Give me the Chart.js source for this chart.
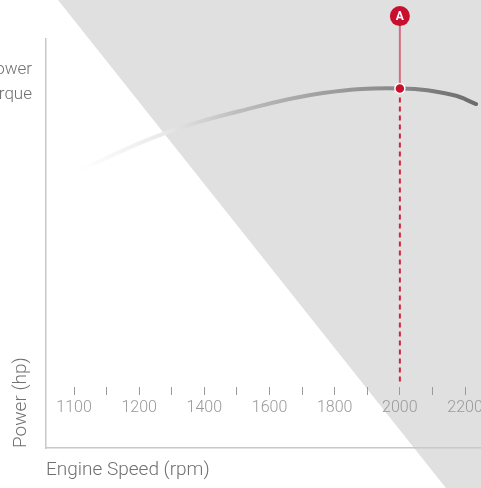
<!DOCTYPE html>
<html>
<head>
<meta charset="utf-8">
<title>Engine Speed vs Power</title>
<script src="https://cdn.jsdelivr.net/npm/chart.js@4.4.1/dist/chart.umd.min.js"></script>
<style>
    html, body { margin: 0; padding: 0; background: #fff; }
    #wrap { position: relative; width: 481px; height: 488px; overflow: hidden; }
</style>
</head>
<body>
<div id="wrap"><canvas id="powerChart"></canvas></div>
<script>
// x values are tick slots: even slots carry the rpm labels, odd slots are minor ticks
const tickLabels = ['1100', '', '1200', '', '1400', '', '1600', '', '1800', '', '2000', '', '2200'];

// power curve (x in tick slots, y in % of axis height)
const curveSlots = [0.18, 2.73, 5.10, 7.64, 10.04, 11.63, 12.34];
const curvePower = [68.0, 76.8, 82.4, 86.8, 87.9, 86.3, 84.1];

const legendLabels = ['Power', 'Torque'];

// marker A on the 2000 rpm slot
const markerLabel = 'A';
const markerSlot = 10;
const markerPower = 87.9;
const markerBadge = 105.6;
const markerDashEnd = 16.1;

const RED = '#c8102e';
const TEXT = '#707070';

Chart.defaults.font.family = 'Roboto, "Liberation Sans", sans-serif';
Chart.defaults.font.weight = 300;

// grey diagonal wedge behind everything
const wedgePlugin = {
    id: 'wedge',
    beforeDraw(chart) {
        const c = chart.ctx, w = chart.width, h = chart.height;
        c.save();
        c.fillStyle = '#e0e0e0';
        c.beginPath();
        c.moveTo(w * 0.1206, 0);
        c.lineTo(w, 0);
        c.lineTo(w, h);
        c.lineTo(w * 0.927, h);
        c.closePath();
        c.fill();
        c.restore();
    }
};

// legend text, cut off by the left edge like in the original
const sideLegendPlugin = {
    id: 'sideLegend',
    afterDraw(chart) {
        const c = chart.ctx;
        c.save();
        c.font = '300 17px Roboto, sans-serif';
        c.fillStyle = TEXT;
        c.textAlign = 'right';
        c.textBaseline = 'alphabetic';
        legendLabels.forEach((txt, i) => {
            c.fillText(txt, 32, 74 + i * 25);
        });
        c.restore();
    }
};

// red badge with the marker letter
const badgePlugin = {
    id: 'badge',
    afterDatasetsDraw(chart) {
        const c = chart.ctx;
        const x = chart.scales.x.getPixelForValue(markerSlot);
        const y = chart.scales.y.getPixelForValue(markerBadge);
        c.save();
        c.fillStyle = RED;
        c.beginPath();
        c.arc(x, y, 10, 0, Math.PI * 2);
        c.fill();
        c.fillStyle = '#fff';
        c.font = 'bold 12px Roboto, sans-serif';
        c.textAlign = 'center';
        c.textBaseline = 'middle';
        c.fillText(markerLabel, x, y + 1);
        c.restore();
    }
};

function curveGradient(context) {
    const chart = context.chart;
    if (!chart.chartArea) return '#999';
    const xs = chart.scales.x;
    const g = chart.ctx.createLinearGradient(
        xs.getPixelForValue(curveSlots[0]), 0,
        xs.getPixelForValue(curveSlots[curveSlots.length - 1]), 0);
    g.addColorStop(0, 'rgba(235,235,235,0)');
    g.addColorStop(0.21, '#e9e9e9');
    g.addColorStop(0.4, '#bdbdbd');
    g.addColorStop(0.61, '#a0a0a0');
    g.addColorStop(0.81, '#888888');
    g.addColorStop(1, '#6c6c6c');
    return g;
}

const xMin = -0.86;
const xMax = 12.49;

new Chart(document.getElementById('powerChart'), {
    type: 'line',
    data: {
        datasets: [
            {
                data: [{ x: markerSlot, y: markerPower }],
                showLine: false,
                pointRadius: 5,
                pointBackgroundColor: RED,
                pointBorderColor: '#fff',
                pointBorderWidth: 1.5
            },
            {
                data: [{ x: markerSlot, y: markerPower }, { x: markerSlot, y: markerBadge }],
                borderColor: 'rgba(200,16,46,0.55)',
                borderWidth: 2,
                pointRadius: 0,
                clip: false
            },
            {
                data: [{ x: markerSlot, y: markerPower }, { x: markerSlot, y: markerDashEnd }],
                borderColor: '#d0243c',
                borderWidth: 2,
                borderDash: [5, 4],
                pointRadius: 0
            },
            {
                label: 'Power',
                data: curveSlots.map((s, i) => ({ x: s, y: curvePower[i] })),
                borderColor: curveGradient,
                borderWidth: 4,
                borderCapStyle: 'round',
                pointRadius: 0,
                tension: 0.4
            }
        ]
    },
    options: {
        responsive: true,
        maintainAspectRatio: false,
        animation: false,
        layout: { autoPadding: false, padding: { top: 39, right: 0, left: 0, bottom: 0 } },
        plugins: { legend: { display: false }, tooltip: { enabled: false } },
        scales: {
            x: {
                type: 'linear',
                min: xMin,
                max: xMax,
                position: { y: 14.9 },
                afterBuildTicks: scale => {
                    scale.ticks = tickLabels.map((l, i) => ({ value: i }));
                },
                afterFit: scale => {
                    scale.paddingLeft = 0;
                    scale.paddingRight = 0;
                },
                border: { display: false },
                grid: { drawOnChartArea: false, drawTicks: true, tickLength: 8, color: '#9a9a9a', lineWidth: 1 },
                ticks: {
                    autoSkip: false,
                    maxRotation: 0,
                    padding: 3,
                    color: '#999',
                    font: { size: 16 },
                    callback: value => tickLabels[value]
                }
            },
            xBase: {
                type: 'linear',
                axis: 'x',
                min: xMin,
                max: xMax,
                position: 'bottom',
                afterFit: scale => {
                    scale.height = 40;
                    scale.paddingLeft = 0;
                    scale.paddingRight = 0;
                },
                border: { display: true, color: '#c8c8c8', width: 1.5 },
                grid: { display: false, drawTicks: false },
                ticks: { display: false },
                title: {
                    display: true,
                    text: 'Engine Speed (rpm)',
                    align: 'start',
                    color: TEXT,
                    font: { size: 19 },
                    padding: { top: 0, bottom: 6 }
                }
            },
            y: {
                type: 'linear',
                min: 0,
                max: 100,
                position: 'left',
                afterFit: scale => { scale.width = 46; },
                border: { display: true, color: '#c8c8c8', width: 1.5 },
                grid: { display: false, drawTicks: false },
                ticks: { display: false },
                title: {
                    display: true,
                    text: 'Power (hp)',
                    align: 'start',
                    color: TEXT,
                    font: { size: 19 },
                    padding: { top: 10, bottom: 0 }
                }
            }
        }
    },
    plugins: [wedgePlugin, sideLegendPlugin, badgePlugin]
});
</script>
</body>
</html>
